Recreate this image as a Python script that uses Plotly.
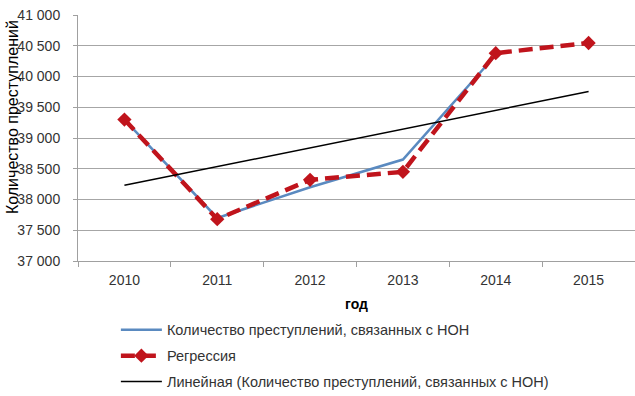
import plotly.graph_objects as go

years = ["2010", "2011", "2012", "2013", "2014", "2015"]
actual_years = ["2010", "2011", "2012", "2013", "2014"]
actual = [39300, 37700, 38200, 38650, 40350]
regression = [39300, 37680, 38320, 38450, 40380, 40545]
trend_years = ["2010", "2015"]
trend = [38230, 39755]
ytick_vals = [37000, 37500, 38000, 38500, 39000, 39500, 40000, 40500, 41000]
ytick_text = ["37 000", "37 500", "38 000", "38 500", "39 000", "39 500", "40 000", "40 500", "41 000"]

name_actual = "Количество преступлений, связанных с НОН"
name_reg = "Регрессия"
name_trend = "Линейная (Количество преступлений, связанных с НОН)"

fig = go.Figure()
fig.add_trace(go.Scatter(x=actual_years, y=actual, mode="lines", name=name_actual,
                         line=dict(color="#5A8AC0", width=2.5), legendgroup="a"))
fig.add_trace(go.Scatter(x=years, y=regression, mode="lines+markers", name=name_reg,
                         line=dict(color="#C0141C", width=4.5, dash="14px,7px"),
                         marker=dict(symbol="diamond", size=11, color="#C0141C"),
                         legendgroup="b"))
fig.add_trace(go.Scatter(x=trend_years, y=trend, mode="lines", name=name_trend,
                         line=dict(color="#000000", width=1.5), legendgroup="c"))

fig.update_layout(
    width=635, height=396,
    margin=dict(l=78, r=0, t=15, b=135, autoexpand=False),
    paper_bgcolor="white", plot_bgcolor="white",
    font=dict(family="Liberation Sans, Arial, sans-serif", size=14, color="#333333"),
    showlegend=True,
    legend=dict(x=0.068, y=-0.215, xanchor="left", yanchor="top",
                traceorder="grouped", tracegroupgap=4, itemwidth=41,
                font=dict(size=14.5, color="#333333"), bgcolor="rgba(0,0,0,0)"),
    xaxis=dict(type="category", categoryorder="array", categoryarray=years,
               range=[-0.5, 5.5], showgrid=False, showline=True, linecolor="#A0A0A0",
               linewidth=1, ticks="outside", tickson="boundaries", ticklen=5,
               tickcolor="#A0A0A0", ticklabelstandoff=6,
               tickfont=dict(size=14, color="#333333"),
               title=dict(text="<b>год</b>", font=dict(size=14, color="#000000"), standoff=12),
               zeroline=False),
    yaxis=dict(range=[37000, 41000], tickvals=ytick_vals, ticktext=ytick_text,
               showgrid=True, gridcolor="#A6A6A6", gridwidth=1.2,
               showline=True, linecolor="#A0A0A0", linewidth=1,
               ticks="outside", ticklen=4, tickcolor="#A0A0A0",
               ticklabelstandoff=10, ticklabeloverflow="allow",
               tickfont=dict(size=14, color="#333333"), zeroline=False),
    annotations=[dict(text="Количество преступлений", textangle=-90,
                      xref="paper", yref="paper", x=-0.1185, y=0.585,
                      xanchor="center", yanchor="middle", showarrow=False,
                      font=dict(size=16, color="#000000",
                                family="Liberation Sans, Arial, sans-serif"))],
)

fig.write_html("out.html", config={"displayModeBar": False},
               post_script="document.body.style.margin='0';")
